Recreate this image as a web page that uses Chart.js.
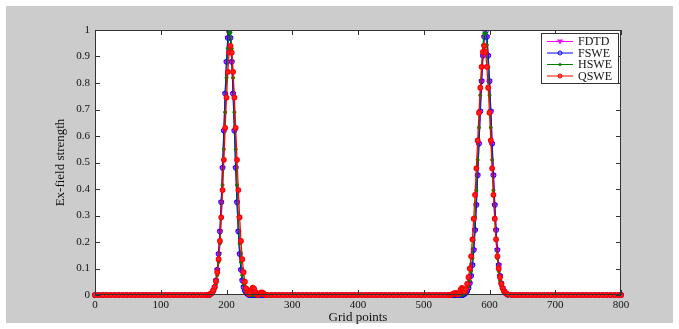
<!DOCTYPE html>
<html>
<head>
<meta charset="utf-8">
<script src="https://cdn.jsdelivr.net/npm/chart.js@4.4.1/dist/chart.umd.min.js"></script>
<style>
    html, body { margin: 0; padding: 0; background: #ffffff; }
    #wrap { width: 679px; height: 329px; }
</style>
</head>
<body>
<div id="wrap"><canvas id="fieldChart" width="679" height="329"></canvas></div>
<script>
// grid positions (x values), split into baseline stretches and the two pulse windows
const gridLeft = [0, 6, 12, 18, 24, 30, 36, 42, 48, 54, 60, 66, 72, 78, 84, 90, 96, 102, 108, 114,
    120, 126, 132, 138, 144, 150, 156, 162, 168];
const gridPulse1 = [172, 174, 176, 178, 180, 182, 184, 186, 188, 190, 192, 194, 196, 198, 200, 202,
    204, 206, 208, 210, 212, 214, 216, 218, 220, 222, 224, 226, 228, 230, 232, 234, 236, 238, 240,
    242, 244, 246, 248, 250, 252, 254, 256, 258, 260, 262];
const gridMid = [268, 274, 280, 286, 292, 298, 304, 310, 316, 322, 328, 334, 340, 346, 352, 358,
    364, 370, 376, 382, 388, 394, 400, 406, 412, 418, 424, 430, 436, 442, 448, 454, 460, 466, 472,
    478, 484, 490, 496, 502, 508, 514, 520, 526, 532];
const gridPulse2 = [538, 540, 542, 544, 546, 548, 550, 552, 554, 556, 558, 560, 562, 564, 566, 568,
    570, 572, 574, 576, 578, 580, 582, 584, 586, 588, 590, 592, 594, 596, 598, 600, 602, 604, 606,
    608, 610, 612, 614, 616, 618, 620, 622, 624, 626, 628];
const gridRight = [634, 640, 646, 652, 658, 664, 670, 676, 682, 688, 694, 700, 706, 712, 718, 724,
    730, 736, 742, 748, 754, 760, 766, 772, 778, 784, 790, 796, 800];

// flat field away from the pulses (same for every method)
const baseLeft = [0, 0, 0, 0, 0, 0, 0, 0, 0, 0, 0, 0, 0, 0, 0, 0, 0, 0, 0, 0, 0, 0, 0, 0, 0, 0, 0, 0, 0];
const baseMid = [0, 0, 0, 0, 0, 0, 0, 0, 0, 0, 0, 0, 0, 0, 0, 0, 0, 0, 0, 0, 0, 0, 0, 0, 0, 0, 0, 0, 0, 0,
    0, 0, 0, 0, 0, 0, 0, 0, 0, 0, 0, 0, 0, 0, 0];
const baseRight = [0, 0, 0, 0, 0, 0, 0, 0, 0, 0, 0, 0, 0, 0, 0, 0, 0, 0, 0, 0, 0, 0, 0, 0, 0, 0, 0, 0, 0];

// FDTD
const fdtdPulse1 = [0, 0, 0.004, 0.008, 0.016, 0.03, 0.055, 0.095, 0.155, 0.24, 0.35, 0.48, 0.62, 0.76,
    0.88, 0.97, 1.0, 0.97, 0.88, 0.76, 0.62, 0.48, 0.35, 0.24, 0.155, 0.095, 0.055, 0.03, 0.016, 0.008,
    0.004, 0, 0, 0, 0, 0, 0, 0, 0, 0, 0, 0, 0, 0, 0, 0];
const fdtdPulse2 = [0, 0, 0, 0, 0, 0, 0, 0, 0, 0, 0, 0.001, 0.004, 0.008, 0.015, 0.026, 0.044, 0.072,
    0.113, 0.17, 0.245, 0.34, 0.452, 0.571, 0.693, 0.807, 0.903, 0.974, 1.0, 0.974, 0.903, 0.807,
    0.693, 0.571, 0.452, 0.34, 0.245, 0.17, 0.113, 0.072, 0.044, 0.026, 0.015, 0.008, 0.004, 0.001];

// FSWE
const fswePulse1 = [0, 0, 0.004, 0.008, 0.016, 0.03, 0.055, 0.095, 0.155, 0.24, 0.35, 0.48, 0.62, 0.76,
    0.88, 0.97, 0.995, 0.97, 0.88, 0.76, 0.62, 0.48, 0.35, 0.24, 0.155, 0.095, 0.055, 0.03, 0.016, 0.008,
    0.004, 0, 0, 0, 0, 0, 0, 0, 0, 0, 0, 0, 0, 0, 0, 0];
const fswePulse2 = [0, 0, 0, 0, 0, 0, 0, 0, 0, 0, 0, 0.001, 0.004, 0.008, 0.015, 0.026, 0.044, 0.072,
    0.113, 0.17, 0.245, 0.34, 0.452, 0.571, 0.693, 0.807, 0.903, 0.974, 0.995, 0.974, 0.903, 0.807,
    0.693, 0.571, 0.452, 0.34, 0.245, 0.17, 0.113, 0.072, 0.044, 0.026, 0.015, 0.008, 0.004, 0.001];

// HSWE
const hswePulse1 = [0, 0, 0.002, 0.006, 0.012, 0.023, 0.042, 0.075, 0.125, 0.195, 0.295, 0.415, 0.55,
    0.69, 0.82, 0.93, 0.99, 0.99, 0.93, 0.82, 0.69, 0.55, 0.415, 0.295, 0.195, 0.125, 0.075, 0.042,
    0.023, 0.012, 0.006, 0.002, 0, 0, 0, 0, 0, 0, 0, 0, 0, 0, 0, 0, 0, 0];
const hswePulse2 = [0, 0, 0, 0, 0, 0, 0, 0, 0, 0, 0, 0.003, 0.006, 0.011, 0.02, 0.033, 0.055, 0.09,
    0.139, 0.207, 0.293, 0.395, 0.51, 0.632, 0.754, 0.859, 0.943, 0.987, 0.987, 0.943, 0.859, 0.754,
    0.632, 0.51, 0.395, 0.293, 0.207, 0.139, 0.09, 0.055, 0.033, 0.02, 0.011, 0.006, 0.003, 0];

// QSWE (lower peak, small trailing ripple)
const qswePulse1 = [0, 0.002, 0.005, 0.009, 0.018, 0.03, 0.052, 0.086, 0.135, 0.204, 0.293, 0.396,
    0.51, 0.631, 0.745, 0.842, 0.915, 0.94, 0.915, 0.842, 0.745, 0.631, 0.51, 0.396, 0.293, 0.204,
    0.135, 0.086, 0.05, 0.025, 0.01, 0.004, 0.008, 0.02, 0.028, 0.024, 0.012, 0.003, 0, 0.004, 0.009,
    0.01, 0.007, 0.002, 0, 0];
const qswePulse2 = [0, 0, 0.001, 0.003, 0.006, 0.008, 0.005, 0.002, 0.008, 0.02, 0.027, 0.022, 0.012,
    0.022, 0.042, 0.067, 0.1, 0.146, 0.21, 0.288, 0.378, 0.478, 0.583, 0.688, 0.782, 0.861, 0.917,
    0.94, 0.917, 0.861, 0.782, 0.688, 0.583, 0.478, 0.378, 0.288, 0.21, 0.146, 0.1, 0.067, 0.042,
    0.026, 0.015, 0.009, 0.005, 0.002];

const xTicks = [0, 100, 200, 300, 400, 500, 600, 700, 800];
const yTicks = [0, 0.1, 0.2, 0.3, 0.4, 0.5, 0.6, 0.7, 0.8, 0.9, 1];

function buildPoints(pulse1, pulse2) {
    const xs = [].concat(gridLeft, gridPulse1, gridMid, gridPulse2, gridRight);
    const ys = [].concat(baseLeft, pulse1, baseMid, pulse2, baseRight);
    return xs.map((x, i) => ({ x: x, y: ys[i] }));
}

const series = [
    { label: 'FDTD', color: '#ff00ff', marker: 'tri', data: buildPoints(fdtdPulse1, fdtdPulse2) },
    { label: 'FSWE', color: '#0000ff', marker: 'circle', data: buildPoints(fswePulse1, fswePulse2) },
    { label: 'HSWE', color: '#008000', marker: 'dot', data: buildPoints(hswePulse1, hswePulse2) },
    { label: 'QSWE', color: '#ff0000', marker: 'ring', data: buildPoints(qswePulse1, qswePulse2) }
];

const FONT = '"Liberation Serif", "Times New Roman", serif';
const AXIS_COLOR = '#333333';

// dataset look for each marker kind
function datasetFor(s, idx) {
    const ds = {
        label: s.label,
        data: s.data,
        borderColor: s.color,
        borderWidth: 1.2,
        pointBorderColor: s.color,
        pointBorderWidth: 1,
        tension: 0,
        order: 4 - idx, // later series drawn on top, like the original
        clip: { left: 3, top: 0, right: 3, bottom: 3 }
    };
    if (s.marker === 'tri') {
        ds.pointStyle = 'triangle';
        ds.pointRotation = 180;
        ds.pointRadius = 3;
        ds.pointBackgroundColor = s.color;
    } else if (s.marker === 'circle') {
        ds.pointStyle = 'circle';
        ds.pointRadius = 2.5;
        ds.pointBackgroundColor = 'rgba(0,0,0,0)';
    } else if (s.marker === 'dot') {
        ds.pointStyle = 'circle';
        ds.pointRadius = 1.5;
        ds.pointBackgroundColor = s.color;
    } else {
        ds.pointStyle = 'circle';
        ds.pointRadius = 2.3;
        ds.pointBorderWidth = 1.2;
        ds.pointBackgroundColor = '#ff2020';
    }
    return ds;
}

function drawMarker(ctx, kind, color, x, y) {
    ctx.save();
    ctx.strokeStyle = color;
    ctx.fillStyle = color;
    ctx.lineWidth = 1;
    ctx.beginPath();
    if (kind === 'tri') {
        ctx.moveTo(x - 3, y - 2);
        ctx.lineTo(x + 3, y - 2);
        ctx.lineTo(x, y + 3);
        ctx.closePath();
        ctx.fill();
    } else if (kind === 'circle') {
        ctx.arc(x, y, 2, 0, Math.PI * 2);
        ctx.stroke();
    } else if (kind === 'dot') {
        ctx.arc(x, y, 1.5, 0, Math.PI * 2);
        ctx.fill();
    } else {
        ctx.arc(x, y, 2, 0, Math.PI * 2);
        ctx.fillStyle = '#ff5050';
        ctx.fill();
        ctx.stroke();
    }
    ctx.restore();
}

// matlab-ish figure: grey panel, boxed axes with inward ticks, legend box
const figurePlugin = {
    id: 'figurePlugin',
    beforeDraw(chart) {
        const { ctx, chartArea } = chart;
        ctx.save();
        ctx.fillStyle = '#ffffff';
        ctx.fillRect(0, 0, chart.width, chart.height);
        ctx.fillStyle = '#cccccc';
        ctx.fillRect(6, 6, chart.width - 12, chart.height - 12);
        ctx.fillStyle = '#ffffff';
        ctx.fillRect(chartArea.left, chartArea.top, chartArea.right - chartArea.left, chartArea.bottom - chartArea.top);
        ctx.restore();
    },
    afterDatasetsDraw(chart) {
        const { ctx, chartArea } = chart;
        const xs = chart.scales.x;
        const ys = chart.scales.y;
        const L = chartArea.left, R = chartArea.right, T = chartArea.top, B = chartArea.bottom;
        ctx.save();
        ctx.strokeStyle = AXIS_COLOR;
        ctx.lineWidth = 1;
        ctx.beginPath();
        xTicks.forEach(v => {
            const px = Math.round(xs.getPixelForValue(v)) + 0.5;
            ctx.moveTo(px, B);
            ctx.lineTo(px, B - 5);
            ctx.moveTo(px, T);
            ctx.lineTo(px, T + 5);
        });
        yTicks.forEach(v => {
            const py = Math.round(ys.getPixelForValue(v)) + 0.5;
            ctx.moveTo(L, py);
            ctx.lineTo(L + 5, py);
            ctx.moveTo(R, py);
            ctx.lineTo(R - 5, py);
        });
        ctx.stroke();
        ctx.strokeRect(L + 0.5, T + 0.5, R - L - 1, B - T - 1);
        ctx.restore();
    },
    afterDraw(chart) {
        const ctx = chart.ctx;
        const boxX = 541, boxY = 33, boxW = 78, boxH = 51;
        ctx.save();
        ctx.fillStyle = '#ffffff';
        ctx.fillRect(boxX, boxY, boxW, boxH);
        ctx.strokeStyle = AXIS_COLOR;
        ctx.lineWidth = 1;
        ctx.strokeRect(boxX + 0.5, boxY + 0.5, boxW - 1, boxH - 1);
        ctx.font = '12px ' + FONT;
        ctx.textBaseline = 'middle';
        ctx.fillStyle = '#111111';
        series.forEach((s, i) => {
            const y = boxY + 8.5 + i * 11.5;
            ctx.strokeStyle = s.color;
            ctx.beginPath();
            ctx.moveTo(547, y);
            ctx.lineTo(573, y);
            ctx.stroke();
            drawMarker(ctx, s.marker, s.color, 560, y);
            ctx.fillStyle = '#111111';
            ctx.fillText(s.label, 578, y + 0.5);
        });
        ctx.restore();
    }
};

const ctx = document.getElementById('fieldChart').getContext('2d');

new Chart(ctx, {
    type: 'line',
    data: {
        datasets: series.map(datasetFor)
    },
    options: {
        responsive: false,
        animation: false,
        devicePixelRatio: 1,
        layout: {
            padding: { left: 6, top: 30, right: 58, bottom: 0 }
        },
        plugins: {
            legend: { display: false },
            tooltip: { enabled: false }
        },
        scales: {
            x: {
                type: 'linear',
                min: 0,
                max: 800,
                afterFit: (scale) => { scale.height = 34; },
                afterBuildTicks: (scale) => { scale.ticks = xTicks.map(v => ({ value: v })); },
                grid: { display: false, drawTicks: false },
                border: { display: false },
                ticks: {
                    padding: 4,
                    color: '#111111',
                    font: { family: FONT, size: 11 },
                    maxRotation: 0,
                    callback: (v) => String(v)
                },
                title: {
                    display: true,
                    text: 'Grid points',
                    color: '#111111',
                    font: { family: FONT, size: 13 },
                    padding: { top: 0, bottom: 4 }
                }
            },
            y: {
                type: 'linear',
                min: 0,
                max: 1,
                afterFit: (scale) => { scale.width = 89; },
                afterBuildTicks: (scale) => { scale.ticks = yTicks.map(v => ({ value: v })); },
                grid: { display: false, drawTicks: false },
                border: { display: false },
                ticks: {
                    padding: 5,
                    color: '#111111',
                    font: { family: FONT, size: 11 },
                    callback: (v) => String(Number(v.toFixed(1)))
                },
                title: {
                    display: true,
                    text: 'Ex-field strength',
                    color: '#111111',
                    font: { family: FONT, size: 13 },
                    padding: { top: 47, bottom: 0 }
                }
            }
        }
    },
    plugins: [figurePlugin]
});
</script>
</body>
</html>
